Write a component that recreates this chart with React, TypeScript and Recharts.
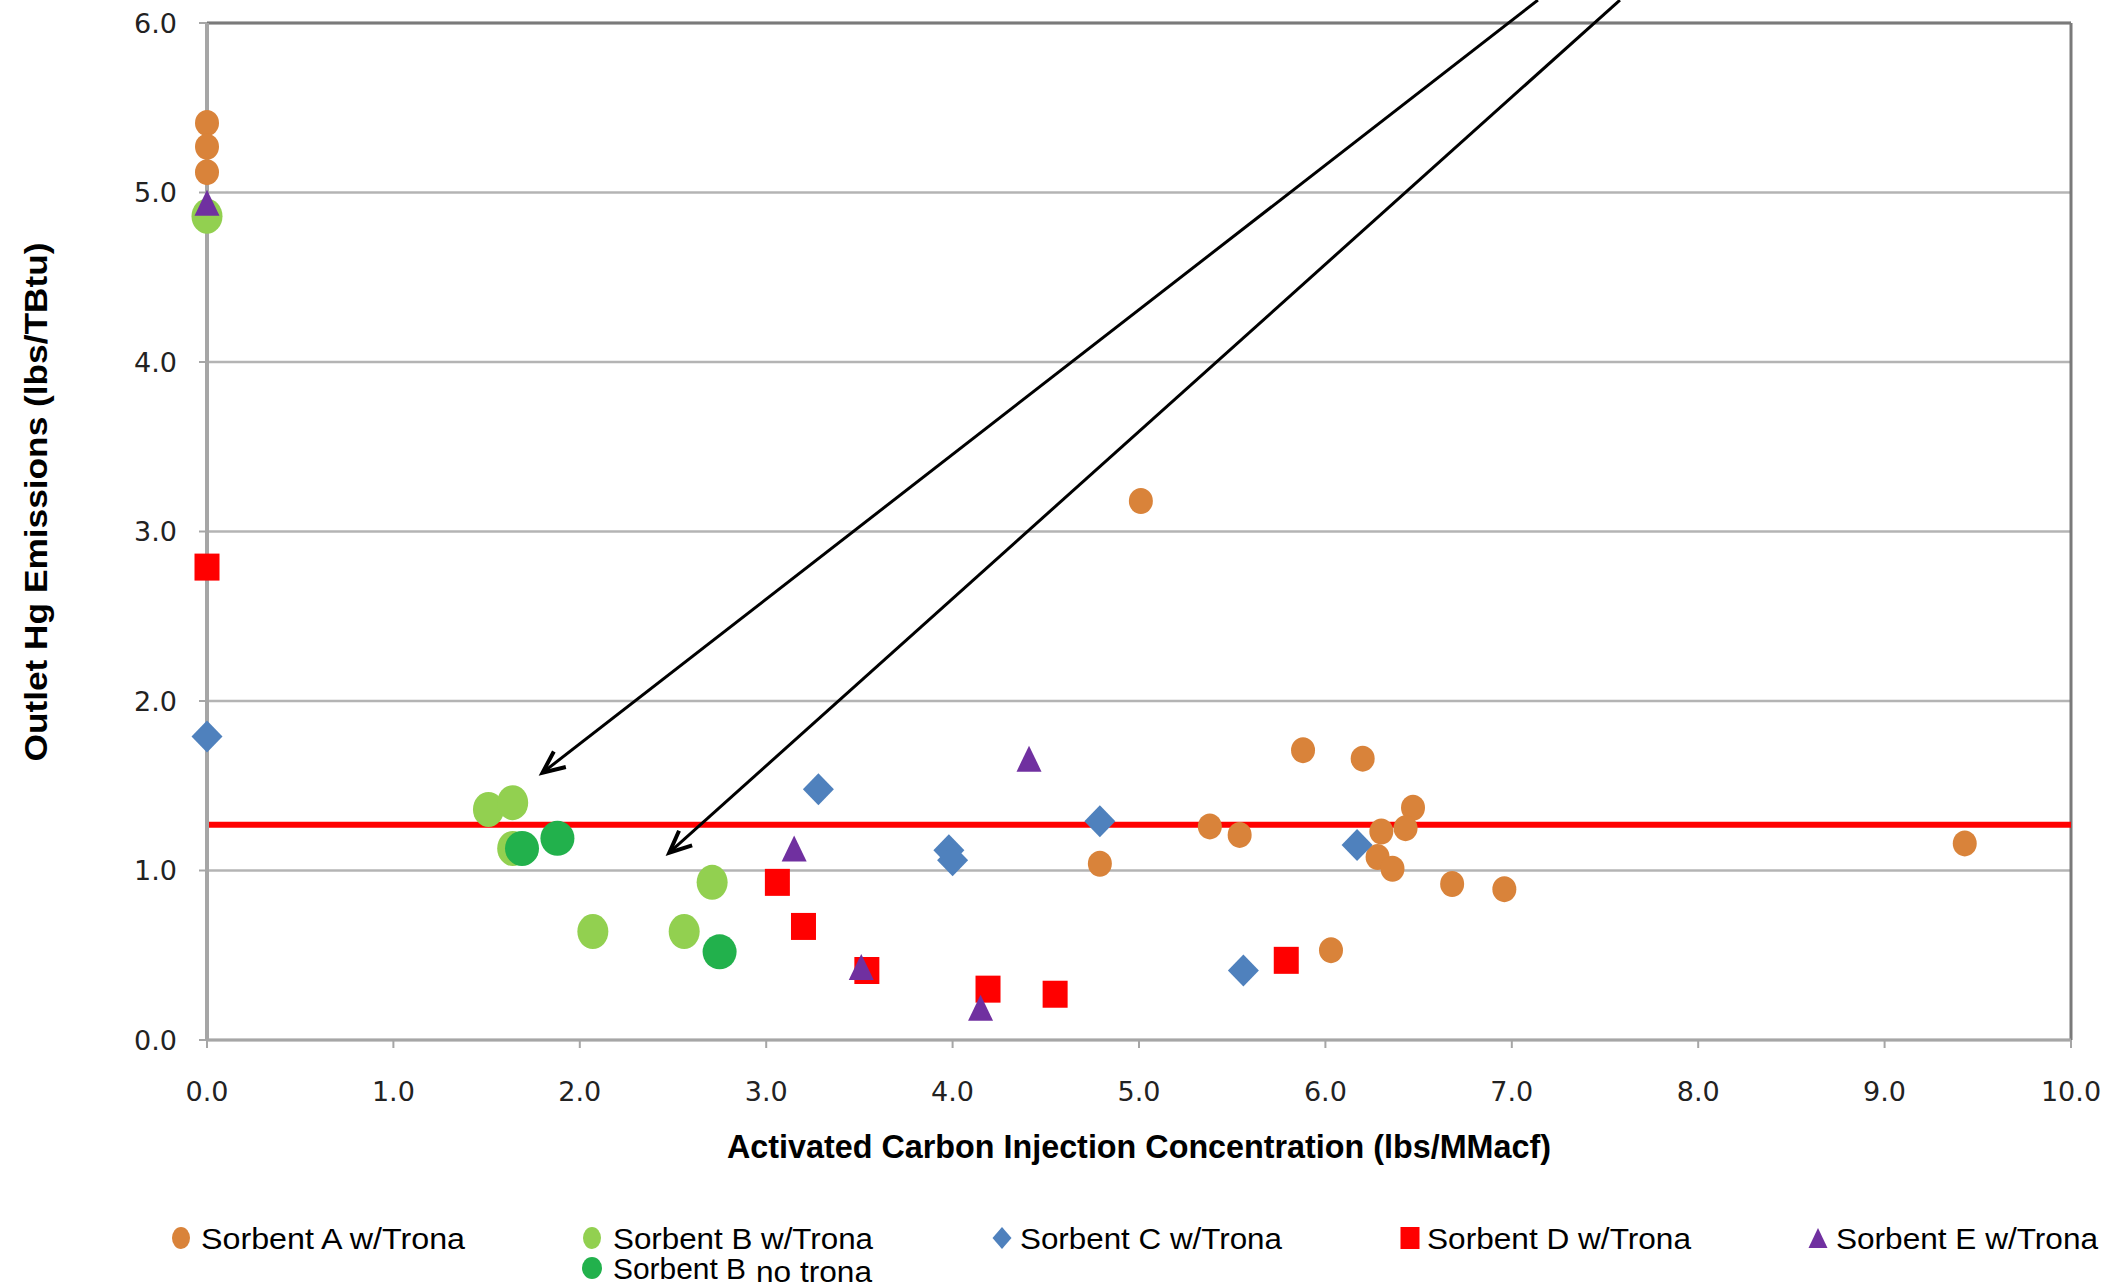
import React from 'react';
import { ScatterChart, Scatter, XAxis, YAxis, CartesianGrid, ReferenceLine } from 'recharts';

type Pt = { x: number; y: number };

// ACI concentration (lbs/MMacf) vs outlet Hg (lbs/TBtu)
const sorbentA: Pt[] = [
  { x: 0, y: 5.41 }, { x: 0, y: 5.27 }, { x: 0, y: 5.12 },
  { x: 5.01, y: 3.18 }, { x: 4.79, y: 1.04 }, { x: 5.38, y: 1.26 },
  { x: 5.54, y: 1.21 }, { x: 5.88, y: 1.71 }, { x: 6.2, y: 1.66 },
  { x: 6.47, y: 1.37 }, { x: 6.43, y: 1.25 }, { x: 6.3, y: 1.23 },
  { x: 6.28, y: 1.08 }, { x: 6.36, y: 1.01 }, { x: 6.68, y: 0.92 },
  { x: 6.96, y: 0.89 }, { x: 6.03, y: 0.53 }, { x: 9.43, y: 1.16 },
];
const sorbentB: Pt[] = [
  { x: 0, y: 4.86 }, { x: 1.51, y: 1.36 }, { x: 1.64, y: 1.4 },
  { x: 1.64, y: 1.13 }, { x: 2.71, y: 0.93 }, { x: 2.07, y: 0.64 },
  { x: 2.56, y: 0.64 },
];
const sorbentC: Pt[] = [
  { x: 0, y: 1.79 }, { x: 3.28, y: 1.48 }, { x: 4.79, y: 1.29 },
  { x: 3.98, y: 1.12 }, { x: 4.0, y: 1.06 }, { x: 6.17, y: 1.15 },
  { x: 5.56, y: 0.41 },
];
const sorbentD: Pt[] = [
  { x: 0, y: 2.79 }, { x: 3.06, y: 0.93 }, { x: 3.2, y: 0.67 },
  { x: 3.54, y: 0.41 }, { x: 4.19, y: 0.3 }, { x: 4.55, y: 0.27 },
  { x: 5.79, y: 0.47 },
];
const sorbentE: Pt[] = [
  { x: 0, y: 4.94 }, { x: 4.41, y: 1.66 }, { x: 3.15, y: 1.13 },
  { x: 3.51, y: 0.43 }, { x: 4.15, y: 0.19 },
];
const sorbentBNoTrona: Pt[] = [
  { x: 1.69, y: 1.13 }, { x: 1.88, y: 1.19 }, { x: 2.75, y: 0.52 },
];

const hgLimit = 1.27;
const xTicks = [0, 1, 2, 3, 4, 5, 6, 7, 8, 9, 10];
const yTicks = [0, 1, 2, 3, 4, 5, 6];
const arrows = [
  { from: { x: 7.14, y: 6.135 }, to: { x: 1.8, y: 1.577 } },
  { from: { x: 7.58, y: 6.135 }, to: { x: 2.48, y: 1.105 } },
];

const ORANGE = '#d9833a';
const LGREEN = '#92d050';
const DGREEN = '#22b14c';
const BLUE = '#4f81bd';
const RED = '#ff0000';
const PURPLE = '#7030a0';

const ellipse = (fill: string, rx: number, ry: number) => (p: any) =>
  <ellipse cx={p.cx} cy={p.cy} rx={rx} ry={ry} fill={fill} />;
const diamond = (fill: string, w: number, h: number) => (p: any) =>
  <path d={`M${p.cx},${p.cy - h / 2}L${p.cx + w / 2},${p.cy}L${p.cx},${p.cy + h / 2}L${p.cx - w / 2},${p.cy}Z`} fill={fill} />;
const square = (fill: string, w: number, h: number) => (p: any) =>
  <rect x={p.cx - w / 2} y={p.cy - h / 2} width={w} height={h} fill={fill} />;
const triangle = (fill: string, w: number, h: number) => (p: any) =>
  <path d={`M${p.cx},${p.cy - h / 2}L${p.cx + w / 2},${p.cy + h / 2}L${p.cx - w / 2},${p.cy + h / 2}Z`} fill={fill} />;

const ArrowShape = (p: any) => {
  const { x1, y1, x2, y2 } = p;
  const ang = Math.atan2(y2 - y1, x2 - x1);
  const len = 24;
  const spread = 0.42;
  const ax = x2 - len * Math.cos(ang - spread);
  const ay = y2 - len * Math.sin(ang - spread);
  const bx = x2 - len * Math.cos(ang + spread);
  const by = y2 - len * Math.sin(ang + spread);
  return (
    <g>
      <line x1={x1} y1={y1} x2={x2} y2={y2} stroke="#000" strokeWidth={3} />
      <path d={`M${ax},${ay}L${x2},${y2}L${bx},${by}`} fill="none" stroke="#000" strokeWidth={4} />
    </g>
  );
};

// legend row 1: marker centre, text start, text width
const legendItems = [
  { name: 'Sorbent A w/Trona', mark: ellipse(ORANGE, 9, 11), x: 181, tx: 201, w: 264 },
  { name: 'Sorbent B w/Trona', mark: ellipse(LGREEN, 9, 11), x: 592, tx: 613, w: 260 },
  { name: 'Sorbent C w/Trona', mark: diamond(BLUE, 19, 22), x: 1002, tx: 1020, w: 262 },
  { name: 'Sorbent D w/Trona', mark: square(RED, 19, 22), x: 1410, tx: 1427, w: 264 },
  { name: 'Sorbent E w/Trona', mark: triangle(PURPLE, 19, 20), x: 1818, tx: 1836, w: 262 },
];

const textFont = '"Liberation Sans", Arial, sans-serif';
const narrowFont = '"Liberation Sans Narrow", "Liberation Sans", Arial, sans-serif';
const tickFont = '"DejaVu Sans", Verdana, sans-serif';

const XTitle = (props: any) => {
  const vb = props.viewBox;
  return (
    <text x={vb.x + vb.width / 2} y={1158} textAnchor="middle" fontFamily={narrowFont} fontWeight="bold"
      fontSize={34} fill="#000" textLength={824} lengthAdjust="spacingAndGlyphs">
      Activated Carbon Injection Concentration (lbs/MMacf)
    </text>
  );
};

const YTitle = () => (
  <text x={36} y={502} transform="rotate(-90, 36, 502)" textAnchor="middle" dominantBaseline="central"
    fontFamily={narrowFont} fontWeight="bold" fontSize={31} fill="#000" textLength={519} lengthAdjust="spacingAndGlyphs">
    Outlet Hg Emissions (lbs/TBtu)
  </text>
);

const Legend = () => (
  <svg width={2113} height={1287} style={{ position: 'absolute', left: 0, top: 0, pointerEvents: 'none' }}>
    {legendItems.map((it) => (
      <g key={it.name}>
        {it.mark({ cx: it.x, cy: 1238 })}
        <text x={it.tx} y={1249} fontFamily={textFont} fontSize={30} fill="#000"
          textLength={it.w} lengthAdjust="spacingAndGlyphs">{it.name}</text>
      </g>
    ))}
    <g>
      {ellipse(DGREEN, 10, 11)({ cx: 592, cy: 1268 })}
      <text x={613} y={1279} fontFamily={textFont} fontSize={30} fill="#000" textLength={133}
        lengthAdjust="spacingAndGlyphs">Sorbent B</text>
      <text x={756} y={1282} fontFamily={narrowFont} fontSize={29} fill="#000" textLength={116}
        lengthAdjust="spacingAndGlyphs">no trona</text>
    </g>
  </svg>
);

export default function App() {
  return (
    <div style={{ position: 'absolute', left: 0, top: 0, width: 2113, height: 1287, background: '#fff' }}>
      <ScatterChart width={2113} height={1287} margin={{ top: 23, right: 42, left: 0, bottom: 117 }}>
        <CartesianGrid horizontal vertical={false} stroke="#b4b4b4" strokeWidth={2.5} />
        <XAxis
          type="number"
          dataKey="x"
          domain={[0, 10]}
          ticks={xTicks}
          interval={0}
          tickFormatter={(v: number) => v.toFixed(1)}
          height={130}
          tickSize={8}
          tickMargin={34}
          tick={{ fontFamily: tickFont, fontSize: 27, fill: '#222' }}
          axisLine={{ stroke: '#a6a6a6', strokeWidth: 3 }}
          tickLine={{ stroke: '#a6a6a6', strokeWidth: 2 }}
          label={{ content: XTitle }}
        />
        <YAxis
          type="number"
          dataKey="y"
          domain={[0, 6]}
          ticks={yTicks}
          interval={0}
          tickFormatter={(v: number) => v.toFixed(1)}
          width={207}
          tickSize={8}
          tickMargin={22}
          tick={{ fontFamily: tickFont, fontSize: 27, fill: '#222' }}
          axisLine={{ stroke: '#a6a6a6', strokeWidth: 4 }}
          tickLine={{ stroke: '#a6a6a6', strokeWidth: 2 }}
          label={{ content: YTitle }}
        />
        <ReferenceLine y={6} stroke="#7a7a7a" strokeWidth={3} />
        <ReferenceLine x={10} stroke="#7a7a7a" strokeWidth={3} />
        <Scatter name="Sorbent A w/Trona" data={sorbentA} shape={ellipse(ORANGE, 12, 13)} isAnimationActive={false} />
        <Scatter name="Sorbent B w/Trona" data={sorbentB} shape={ellipse(LGREEN, 15.5, 17.5)} isAnimationActive={false} />
        <Scatter name="Sorbent C w/Trona" data={sorbentC} shape={diamond(BLUE, 31, 32)} isAnimationActive={false} />
        <Scatter name="Sorbent D w/Trona" data={sorbentD} shape={square(RED, 25, 27)} isAnimationActive={false} />
        <Scatter name="Sorbent E w/Trona" data={sorbentE} shape={triangle(PURPLE, 25, 26)} isAnimationActive={false} />
        <Scatter name="Sorbent B no trona" data={sorbentBNoTrona} shape={ellipse(DGREEN, 17, 17.5)} isAnimationActive={false} />
        <ReferenceLine y={hgLimit} x1={0} stroke={RED} strokeWidth={6} />
        {arrows.map((a, i) => (
          <ReferenceLine key={i} segment={[a.from, a.to]} ifOverflow="visible" shape={ArrowShape} />
        ))}
      </ScatterChart>
      <Legend />
    </div>
  );
}
